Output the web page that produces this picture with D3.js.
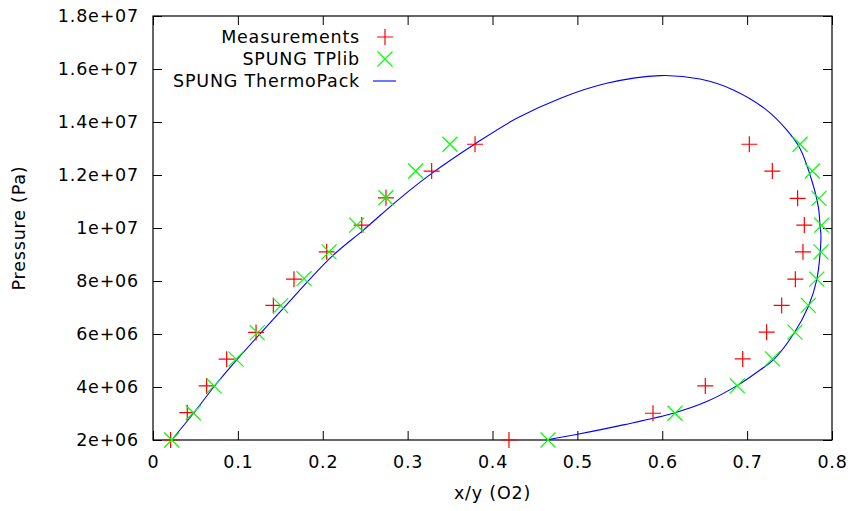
<!DOCTYPE html>
<html>
<head>
<meta charset="utf-8">
<script src="https://cdn.jsdelivr.net/npm/d3@7"></script>
<style>
  body { margin: 0; background: #fff; }
  text { font-family: "DejaVu Sans", sans-serif; font-size: 17.5px; letter-spacing: 0.8px; fill: #000; }
</style>
</head>
<body>
<div id="chart"></div>
<script>
const width = 851
const height = 511
const margin = ({ top: 16, right: 19, bottom: 71, left: 153 })

// measured data (x/y O2, pressure Pa)
const measX = [0.0208, 0.0404, 0.0632, 0.0868, 0.1214, 0.1418, 0.1661, 0.2046, 0.2459, 0.2745, 0.3283, 0.3794,
               0.7026, 0.7297, 0.7595, 0.7674, 0.7658, 0.7568, 0.7407, 0.7230, 0.6948, 0.6507, 0.5891, 0.4194]
const measP = [2.0e6, 3.03e6, 4.04e6, 5.05e6, 6.06e6, 7.08e6, 8.07e6, 9.1e6, 1.011e7, 1.114e7, 1.215e7, 1.316e7,
               1.316e7, 1.215e7, 1.112e7, 1.011e7, 9.1e6, 8.07e6, 7.08e6, 6.07e6, 5.06e6, 4.04e6, 3.01e6, 2.0e6]

// SPUNG TPlib
const tplibX = [0.022, 0.0475, 0.0719, 0.0978, 0.1229, 0.1504, 0.1779, 0.2074, 0.24, 0.2745, 0.3095, 0.3499,
                0.7623, 0.7768, 0.7847, 0.7878, 0.787, 0.782, 0.7721, 0.7564, 0.7297, 0.6884, 0.615, 0.4654]
const tplibP = [2.0e6, 3.03e6, 4.04e6, 5.05e6, 6.05e6, 7.07e6, 8.09e6, 9.1e6, 1.011e7, 1.114e7, 1.215e7, 1.316e7,
                1.316e7, 1.215e7, 1.112e7, 1.011e7, 9.1e6, 8.07e6, 7.08e6, 6.07e6, 5.06e6, 4.04e6, 3.01e6, 2.0e6]

// SPUNG ThermoPack envelope
const curveX = [0.022, 0.0475, 0.0719, 0.0986, 0.1535, 0.2105, 0.2478, 0.291, 0.3284, 0.3806, 0.4285,
                0.4795, 0.5345, 0.5973, 0.6445, 0.6837, 0.723, 0.7466, 0.7623, 0.776, 0.7839, 0.786, 0.787,
                0.782, 0.772, 0.7552, 0.7309, 0.7152, 0.6896, 0.6524, 0.615, 0.554, 0.5, 0.463]
const curveP = [2.0e6, 3.0e6, 4.01e6, 5.02e6, 6.97e6, 8.92e6, 9.92e6, 1.112e7, 1.206e7, 1.32e7, 1.414e7,
                1.489e7, 1.546e7, 1.575e7, 1.562e7, 1.521e7, 1.445e7, 1.37e7, 1.30e7, 1.181e7, 1.08e7, 1.005e7, 9.67e6,
                8.04e6, 7.03e6, 6.03e6, 5.02e6, 4.64e6, 4.08e6, 3.45e6, 3.03e6, 2.57e6, 2.215e6, 2.0e6]

const xTicks = [0, 0.1, 0.2, 0.3, 0.4, 0.5, 0.6, 0.7, 0.8]
const xTickLabels = ['0', '0.1', '0.2', '0.3', '0.4', '0.5', '0.6', '0.7', '0.8']
const yTicks = [2e6, 4e6, 6e6, 8e6, 1e7, 1.2e7, 1.4e7, 1.6e7, 1.8e7]
const yTickLabels = ['2e+06', '4e+06', '6e+06', '8e+06', '1e+07', '1.2e+07', '1.4e+07', '1.6e+07', '1.8e+07']

const legendNames = ['Measurements', 'SPUNG TPlib', 'SPUNG ThermoPack']

const xScale = d3.scaleLinear()
    .domain([0, 0.8])
    .range([margin.left, width - margin.right])

const yScale = d3.scaleLinear()
    .domain([2e6, 1.8e7])
    .range([height - margin.bottom, margin.top])

const svg = d3.select('#chart').append('svg')
    .attr('width', width)
    .attr('height', height)

const tick = 9

// bottom axis with labels, ticks pointing inward
svg.append('g')
    .attr('transform', 'translate(0,' + (height - margin.bottom) + ')')
    .call(d3.axisBottom(xScale).tickValues(xTicks)
      .tickFormat((d, i) => xTickLabels[i])
      .tickSizeInner(-tick).tickSizeOuter(0).tickPadding(16))
    .call(g => g.select('.domain').remove())
    .call(g => g.selectAll('text').attr('font-size', null).attr('font-family', null))

svg.append('g')
    .attr('transform', 'translate(0,' + margin.top + ')')
    .call(d3.axisTop(xScale).tickValues(xTicks).tickFormat('')
      .tickSizeInner(-tick).tickSizeOuter(0))
    .call(g => g.select('.domain').remove())

svg.append('g')
    .attr('transform', 'translate(' + margin.left + ',0)')
    .call(d3.axisLeft(yScale).tickValues(yTicks)
      .tickFormat((d, i) => yTickLabels[i])
      .tickSizeInner(-tick).tickSizeOuter(0).tickPadding(14))
    .call(g => g.select('.domain').remove())
    .call(g => g.selectAll('text').attr('font-size', null).attr('font-family', null))

svg.append('g')
    .attr('transform', 'translate(' + (width - margin.right) + ',0)')
    .call(d3.axisRight(yScale).tickValues(yTicks).tickFormat('')
      .tickSizeInner(-tick).tickSizeOuter(0))
    .call(g => g.select('.domain').remove())

svg.selectAll('.tick line').attr('stroke', '#000')

// border
svg.append('rect')
    .attr('x', margin.left)
    .attr('y', margin.top)
    .attr('width', width - margin.left - margin.right)
    .attr('height', height - margin.top - margin.bottom)
    .attr('fill', 'none')
    .attr('stroke', '#000')
    .attr('stroke-width', 1.2)

// axis titles
svg.append('text')
    .attr('transform', 'rotate(-90)')
    .attr('x', -(margin.top + (height - margin.top - margin.bottom) / 2))
    .attr('y', 25)
    .style('text-anchor', 'middle')
    .text('Pressure (Pa)')

svg.append('text')
    .attr('x', margin.left + (width - margin.left - margin.right) / 2)
    .attr('y', 499)
    .style('text-anchor', 'middle')
    .text('x/y (O2)')

const plusPath = (x, y, r) => `M${x - r},${y}H${x + r}M${x},${y - r}V${y + r}`
const crossPath = (x, y, r) => `M${x - r},${y - r}L${x + r},${y + r}M${x - r},${y + r}L${x + r},${y - r}`

const meas = measX.map((x, i) => ({ x: x, y: measP[i] }))
const tplib = tplibX.map((x, i) => ({ x: x, y: tplibP[i] }))
const curve = curveX.map((x, i) => ({ x: x, y: curveP[i] }))

// ThermoPack line
const line = d3.line()
    .x(d => xScale(d.x))
    .y(d => yScale(d.y))
    .curve(d3.curveCatmullRom)

svg.append('path')
    .attr('d', line(curve))
    .attr('fill', 'none')
    .attr('stroke', '#0000ff')
    .attr('stroke-width', 1.1)

svg.append('g')
    .selectAll('path')
    .data(meas)
    .enter().append('path')
    .attr('d', d => plusPath(xScale(d.x), yScale(d.y), 8))
    .attr('stroke', '#ff0000')
    .attr('stroke-width', 1.2)

svg.append('g')
    .selectAll('path')
    .data(tplib)
    .enter().append('path')
    .attr('d', d => crossPath(xScale(d.x), yScale(d.y), 7.5))
    .attr('stroke', '#00ff00')
    .attr('stroke-width', 1.2)

// legend
const legend = svg.append('g')
legendNames.forEach((name, i) => {
  const ly = 37 + i * 22
  legend.append('text')
      .attr('x', 360)
      .attr('y', ly + 6)
      .style('text-anchor', 'end')
      .text(name)
  if (i === 0) {
    legend.append('path').attr('d', plusPath(385, ly, 8))
        .attr('stroke', '#ff0000').attr('stroke-width', 1.2)
  } else if (i === 1) {
    legend.append('path').attr('d', crossPath(385, ly, 7.5))
        .attr('stroke', '#00ff00').attr('stroke-width', 1.2)
  } else {
    legend.append('path').attr('d', `M373,${ly}H396`)
        .attr('stroke', '#0000ff').attr('stroke-width', 1.1)
  }
})
</script>
</body>
</html>
